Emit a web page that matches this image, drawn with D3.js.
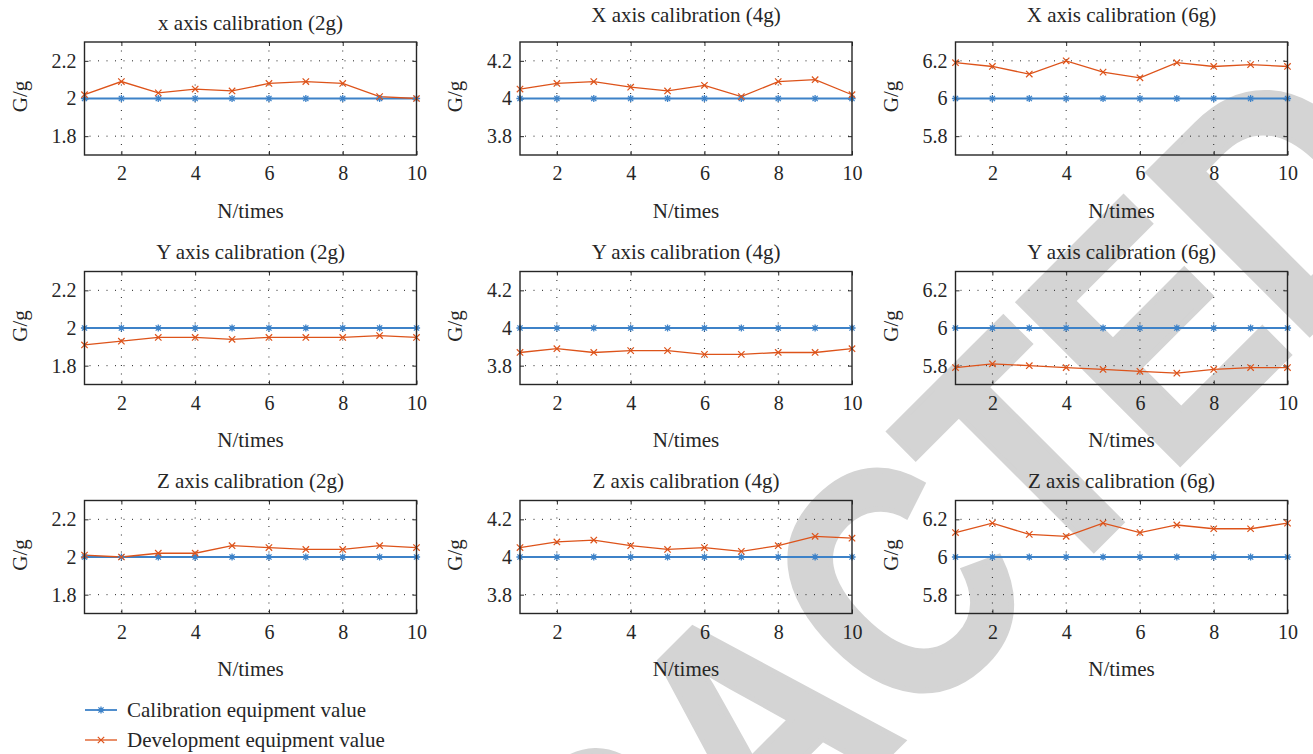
<!DOCTYPE html>
<html>
<head>
<meta charset="utf-8">
<script src="https://cdn.jsdelivr.net/npm/d3@7"></script>
<style>
  html, body { margin: 0; padding: 0; background: #fff; }
  svg { display: block; }
  text { font-family: "Liberation Serif", "DejaVu Serif", serif; fill: #262626; }
</style>
</head>
<body>
<div id="chart"></div>
<script>
"use strict";

// runs on the x axis
var runs = [1, 2, 3, 4, 5, 6, 7, 8, 9, 10];
var xTicks = [2, 4, 6, 8, 10];

// reference (calibration equipment) values
var calib2 = [2, 2, 2, 2, 2, 2, 2, 2, 2, 2];
var calib4 = [4, 4, 4, 4, 4, 4, 4, 4, 4, 4];
var calib6 = [6, 6, 6, 6, 6, 6, 6, 6, 6, 6];

// development equipment values
var devX2 = [2.02, 2.09, 2.03, 2.05, 2.04, 2.08, 2.09, 2.08, 2.01, 2.00];
var devX4 = [4.05, 4.08, 4.09, 4.06, 4.04, 4.07, 4.01, 4.09, 4.10, 4.02];
var devX6 = [6.19, 6.17, 6.13, 6.20, 6.14, 6.11, 6.19, 6.17, 6.18, 6.17];
var devY2 = [1.91, 1.93, 1.95, 1.95, 1.94, 1.95, 1.95, 1.95, 1.96, 1.95];
var devY4 = [3.87, 3.89, 3.87, 3.88, 3.88, 3.86, 3.86, 3.87, 3.87, 3.89];
var devY6 = [5.79, 5.81, 5.80, 5.79, 5.78, 5.77, 5.76, 5.78, 5.79, 5.79];
var devZ2 = [2.01, 2.00, 2.02, 2.02, 2.06, 2.05, 2.04, 2.04, 2.06, 2.05];
var devZ4 = [4.05, 4.08, 4.09, 4.06, 4.04, 4.05, 4.03, 4.06, 4.11, 4.10];
var devZ6 = [6.13, 6.18, 6.12, 6.11, 6.18, 6.13, 6.17, 6.15, 6.15, 6.18];

var yTicks2 = [1.8, 2, 2.2];
var yTicks4 = [3.8, 4, 4.2];
var yTicks6 = [5.8, 6, 6.2];

var titles = [
  "x axis calibration (2g)", "X axis calibration (4g)", "X axis calibration (6g)",
  "Y axis calibration (2g)", "Y axis calibration (4g)", "Y axis calibration (6g)",
  "Z axis calibration (2g)", "Z axis calibration (4g)", "Z axis calibration (6g)"
];
var devSeries = [devX2, devX4, devX6, devY2, devY4, devY6, devZ2, devZ4, devZ6];
var calibSeries = [calib2, calib4, calib6];
var yTickSets = [yTicks2, yTicks4, yTicks6];
var levels = [2, 4, 6];

var legendLabels = ["Calibration equipment value", "Development equipment value"];

var width = 1313, height = 754;
var blue = "#3d82c8", orange = "#dd531a", frame = "#262626";

var colLeft = [84.5, 520, 955.5], plotW = 332;
var rowTop = [42, 271.5, 500.5], plotH = 113;

var svg = d3.select("#chart").append("svg")
    .attr("width", width).attr("height", height);

// watermark, behind the charts (condensed bold, rotated 45 degrees)
var wmSize = 331, wmScale = 0.83;
var wmStart = 221 - wmScale * 3.805 * wmSize;
svg.append("g")
    .attr("transform", "rotate(-45) translate(" + wmStart + ",1162) scale(" + wmScale + ",1)")
  .append("text")
    .style("font-family", "'Liberation Sans', Arial, sans-serif")
    .style("font-weight", "bold")
    .style("font-size", wmSize + "px")
    .style("fill", "#d4d4d4")
    .style("stroke", "#d4d4d4")
    .style("stroke-width", 6)
    .style("stroke-linejoin", "miter")
    .text("RETRACTED");

function star(g, x, y) {
  var r = 3.6, d = r * 0.72;
  g.append("path")
    .attr("d", "M" + (x - r) + "," + y + "h" + 2 * r +
               "M" + x + "," + (y - r) + "v" + 2 * r +
               "M" + (x - d) + "," + (y - d) + "l" + 2 * d + "," + 2 * d +
               "M" + (x - d) + "," + (y + d) + "l" + 2 * d + "," + (-2 * d))
    .attr("stroke", blue).attr("stroke-width", 1.3).attr("fill", "none");
}

function cross(g, x, y) {
  var r = 3.2;
  g.append("path")
    .attr("d", "M" + (x - r) + "," + (y - r) + "l" + 2 * r + "," + 2 * r +
               "M" + (x - r) + "," + (y + r) + "l" + 2 * r + "," + (-2 * r))
    .attr("stroke", orange).attr("stroke-width", 1.2).attr("fill", "none");
}

titles.forEach(function (title, i) {
  var row = Math.floor(i / 3), col = i % 3;
  var left = colLeft[col], top = rowTop[row];
  var level = levels[col];
  var g = svg.append("g").attr("transform", "translate(" + left + "," + top + ")");

  var x = d3.scaleLinear().domain([1, 10]).range([0, plotW]);
  var y = d3.scaleLinear().domain([level - 0.3, level + 0.3]).range([plotH, 0]);

  // dotted grid
  g.append("g").selectAll("line").data(xTicks.filter(function (t) { return t < 10; }))
    .join("line")
    .attr("x1", function (d) { return x(d); }).attr("x2", function (d) { return x(d); })
    .attr("y1", 0).attr("y2", plotH)
    .attr("stroke", "#222").attr("stroke-width", 1).attr("stroke-dasharray", "1,7.5");
  g.append("g").selectAll("line").data(yTickSets[col])
    .join("line")
    .attr("x1", 0).attr("x2", plotW)
    .attr("y1", function (d) { return y(d); }).attr("y2", function (d) { return y(d); })
    .attr("stroke", "#222").attr("stroke-width", 1).attr("stroke-dasharray", "1,7.5")
    .attr("stroke-dashoffset", -5);

  // axes with inward ticks
  var xAxis = g.append("g").attr("transform", "translate(0," + plotH + ")")
    .call(d3.axisBottom(x).tickValues(xTicks).tickSizeInner(-4).tickSizeOuter(0).tickPadding(11));
  var yAxis = g.append("g")
    .call(d3.axisLeft(y).tickValues(yTickSets[col]).tickSizeInner(-4).tickSizeOuter(0)
      .tickPadding(8).tickFormat(d3.format("~g")));
  g.append("g").call(d3.axisTop(x).tickValues(xTicks).tickSizeInner(-4).tickSizeOuter(0).tickFormat(""));
  g.append("g").attr("transform", "translate(" + plotW + ",0)")
    .call(d3.axisRight(y).tickValues(yTickSets[col]).tickSizeInner(-4).tickSizeOuter(0).tickFormat(""));
  g.selectAll(".domain").remove();
  g.selectAll(".tick line").attr("stroke", frame).attr("stroke-width", 1);
  [xAxis, yAxis].forEach(function (a) {
    a.selectAll(".tick text")
      .style("font-family", "'Liberation Serif', serif")
      .style("font-size", "20px").attr("fill", frame);
  });
  xAxis.selectAll(".tick text").attr("dy", "0.71em");

  // lines
  var line = d3.line()
    .x(function (d, k) { return x(runs[k]); })
    .y(function (d) { return y(d); });
  g.append("path").datum(calibSeries[col])
    .attr("d", line).attr("fill", "none").attr("stroke", blue).attr("stroke-width", 1.8);
  g.append("path").datum(devSeries[i])
    .attr("d", line).attr("fill", "none").attr("stroke", orange).attr("stroke-width", 1.3);

  var mk = g.append("g");
  calibSeries[col].forEach(function (v, k) { star(mk, x(runs[k]), y(v)); });
  devSeries[i].forEach(function (v, k) { cross(mk, x(runs[k]), y(v)); });

  // frame
  g.append("rect").attr("width", plotW).attr("height", plotH)
    .attr("fill", "none").attr("stroke", frame).attr("stroke-width", 1.4);

  // labels
  var titleOff = (i === 0) ? -19.5 : (row === 0 ? -27 : -20);
  g.append("text").attr("x", plotW / 2).attr("y", titleOff)
    .attr("text-anchor", "middle").attr("dominant-baseline", "central")
    .style("font-size", "21px").text(title);
  g.append("text").attr("x", plotW / 2).attr("y", plotH + 55.5)
    .attr("text-anchor", "middle").attr("dominant-baseline", "central")
    .style("font-size", "21px").text("N/times");
  g.append("text").attr("transform", "translate(-65," + (plotH / 2 - 2) + ") rotate(-90)")
    .attr("text-anchor", "middle").attr("dominant-baseline", "central")
    .style("font-size", "21px").text("G/g");
});

// legend
var legend = svg.append("g").attr("transform", "translate(85,710)");
legendLabels.forEach(function (label, k) {
  var ly = k * 30;
  var lg = legend.append("g");
  lg.append("line").attr("x1", 0).attr("x2", 32).attr("y1", ly).attr("y2", ly)
    .attr("stroke", k === 0 ? blue : orange).attr("stroke-width", k === 0 ? 1.8 : 1.3);
  if (k === 0) star(lg, 16, ly); else cross(lg, 16, ly);
  lg.append("text").attr("x", 42).attr("y", ly)
    .attr("dominant-baseline", "central")
    .style("font-size", "21px").text(label);
});
</script>
</body>
</html>
